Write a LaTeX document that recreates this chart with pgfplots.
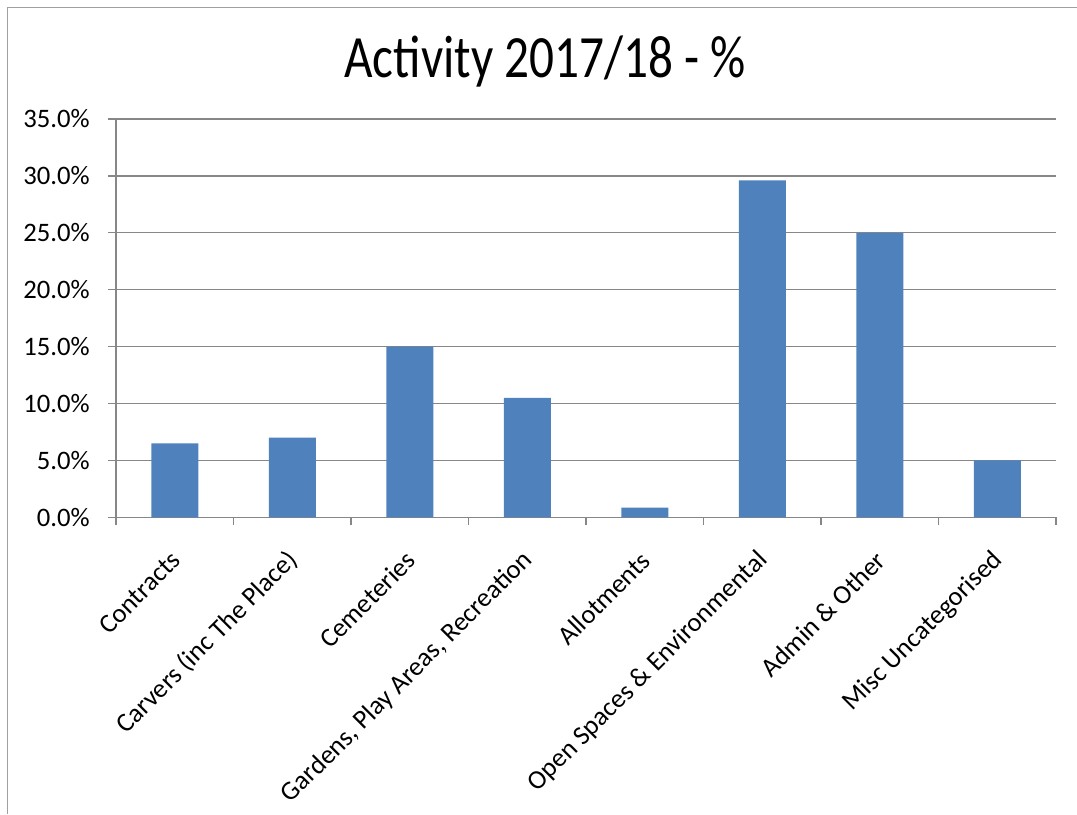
\documentclass[border=0pt]{standalone}
\usepackage{pgfplots}
\pgfplotsset{compat=1.18}
\usepackage{graphicx}
\usepackage{fontspec}
\setmainfont{Carlito}
\definecolor{barblue}{HTML}{4F81BD}
\definecolor{gridgray}{HTML}{878787}
\definecolor{framegray}{HTML}{A0A0A0}
\begin{document}
\begin{tikzpicture}
\path[use as bounding box] (0,0) rectangle (807.75pt,610.5pt);
\draw[framegray, line width=1.2pt] (5.5pt,0) -- (5.5pt,605pt) -- (807.75pt,605pt);
\node[anchor=base] at (408.75pt,552pt) {\scalebox{0.82}[1]{\fontsize{45}{54}\selectfont Activity 2017/18 - \%}};
\begin{axis}[
  at={(87pt,222.5pt)}, anchor=south west,
  scale only axis, width=705pt, height=298.75pt,
  xmin=-0.5, xmax=7.5, ymin=0, ymax=35,
  ybar, bar width=0.4, bar shift=0pt,
  axis x line=bottom, axis y line=left,
  axis line style={-, gridgray, line width=1pt},
  ytick={0,5,10,15,20,25,30,35},
  yticklabels={0.0\%,5.0\%,10.0\%,15.0\%,20.0\%,25.0\%,30.0\%,35.0\%},
  ymajorgrids, grid style={gridgray, line width=1pt},
  xtick={0,1,2,3,4,5,6,7},
  xticklabels={Contracts,Carvers (inc The Place),Cemeteries,{Gardens, Play Areas, Recreation},Allotments,Open Spaces \& Environmental,Admin \& Other,Misc Uncategorised},
  minor xtick={-0.5,0.5,1.5,2.5,3.5,4.5,5.5,6.5,7.5},
  major x tick style={draw=none},
  tick align=outside, major tick length=6pt, minor tick length=6pt,
  tick style={gridgray, line width=1pt},
  yticklabel style={font=\fontsize{20}{24}\selectfont, inner sep=0pt, xshift=-13.5pt},
  xticklabel style={font=\fontsize{20}{24}\selectfont, inner sep=0pt, xshift=1pt, yshift=-23pt, anchor=east, rotate=45},
]
\addplot[fill=barblue, draw=none] coordinates {(0,6.5) (1,7.0) (2,15.0) (3,10.5) (4,0.85) (5,29.6) (6,25.0) (7,5.0)};
\end{axis}
\end{tikzpicture}
\end{document}
